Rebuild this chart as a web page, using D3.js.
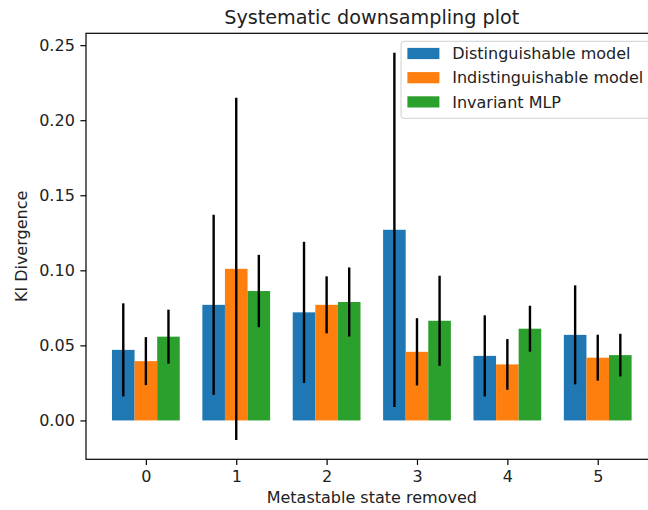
<!DOCTYPE html>
<html>
<head>
<meta charset="utf-8">
<script src="https://cdn.jsdelivr.net/npm/d3@7"></script>
<style>
  html, body { margin: 0; padding: 0; background: #fff; }
  svg { display: block; font-family: "DejaVu Sans", sans-serif; }
</style>
</head>
<body>
<div id="chart"></div>
<script>
const categories = [0, 1, 2, 3, 4, 5];
const seriesNames = ["Distinguishable model", "Indistinguishable model", "Invariant MLP"];
const seriesColors = ["#1f77b4", "#ff7f0e", "#2ca02c"];
const distinguishable = [0.047, 0.077, 0.072, 0.127, 0.043, 0.057];
const distinguishableErr = [0.031, 0.060, 0.047, 0.118, 0.027, 0.033];
const indistinguishable = [0.0395, 0.101, 0.077, 0.0457, 0.0373, 0.0418];
const indistinguishableErr = [0.016, 0.114, 0.019, 0.0224, 0.0169, 0.0153];
const invariant = [0.0558, 0.0862, 0.0789, 0.0664, 0.0611, 0.0435];
const invariantErr = [0.018, 0.0241, 0.023, 0.030, 0.0153, 0.0142];
const yTicks = [0.00, 0.05, 0.10, 0.15, 0.20, 0.25];

(function () {
const W = 648, H = 510;
const pLeft = 86, pRight = 657.6, pTop = 33.3, pBottom = 459.3;
const barW = 0.25;

const seriesVals = [distinguishable, indistinguishable, invariant];
const seriesErrs = [distinguishableErr, indistinguishableErr, invariantErr];

// matplotlib-like autoscale with 5% margins
const xMin = d3.min(categories) - barW * 1.5, xMax = d3.max(categories) + barW * 1.5;
const xm = (xMax - xMin) * 0.05;
let yLo = 0, yHi = 0;
seriesVals.forEach((vals, s) => vals.forEach((v, i) => {
  yLo = Math.min(yLo, v - seriesErrs[s][i]);
  yHi = Math.max(yHi, v + seriesErrs[s][i]);
}));
const ym = (yHi - yLo) * 0.05;

const x = d3.scaleLinear().domain([xMin - xm, xMax + xm]).range([pLeft, pRight]);
const y = d3.scaleLinear().domain([yLo - ym, yHi + ym]).range([pBottom, pTop]);

const svg = d3.select("#chart").append("svg").attr("width", W).attr("height", H);
svg.append("rect").attr("width", W).attr("height", H).attr("fill", "#fff");

// bars
const offsets = [-barW, 0, barW];
seriesVals.forEach((vals, s) => {
  svg.append("g").selectAll("rect").data(vals).join("rect")
    .attr("x", (d, i) => x(categories[i] + offsets[s] - barW / 2))
    .attr("width", (d, i) => x(categories[i] + offsets[s] + barW / 2) - x(categories[i] + offsets[s] - barW / 2))
    .attr("y", d => y(Math.max(d, 0)))
    .attr("height", d => Math.abs(y(d) - y(0)))
    .attr("fill", seriesColors[s]);
});
// error bars
seriesVals.forEach((vals, s) => {
  svg.append("g").selectAll("line").data(vals).join("line")
    .attr("x1", (d, i) => x(categories[i] + offsets[s]))
    .attr("x2", (d, i) => x(categories[i] + offsets[s]))
    .attr("y1", (d, i) => y(d - seriesErrs[s][i]))
    .attr("y2", (d, i) => y(d + seriesErrs[s][i]))
    .attr("stroke", "#000").attr("stroke-width", 2.4);
});

// spines
svg.append("rect").attr("x", pLeft).attr("y", pTop).attr("width", pRight - pLeft).attr("height", pBottom - pTop)
  .attr("stroke", "#000").attr("stroke-width", 1.2).attr("fill", "none");

// x axis
const xAxis = d3.axisBottom(x).tickValues(categories).tickFormat(d3.format("d")).tickSize(5.6).tickPadding(5.6);
const gx = svg.append("g").attr("transform", `translate(0,${pBottom})`).call(xAxis);
gx.select(".domain").remove();
gx.selectAll(".tick line").attr("stroke", "#000").attr("stroke-width", 1.2);
gx.selectAll(".tick text").attr("font-size", 16).attr("font-family", "DejaVu Sans").attr("fill", "#222");

// y axis
const yAxis = d3.axisLeft(y).tickValues(yTicks).tickFormat(d3.format(".2f")).tickSize(5.6).tickPadding(5.6);
const gy = svg.append("g").attr("transform", `translate(${pLeft},0)`).call(yAxis);
gy.select(".domain").remove();
gy.selectAll(".tick line").attr("stroke", "#000").attr("stroke-width", 1.2);
gy.selectAll(".tick text").attr("font-size", 16).attr("font-family", "DejaVu Sans").attr("fill", "#222");

// labels
svg.append("text").attr("x", (pLeft + pRight) / 2).attr("y", 23.5).attr("text-anchor", "middle")
  .attr("font-size", 19.2).attr("fill", "#222").text("Systematic downsampling plot");
svg.append("text").attr("x", (pLeft + pRight) / 2).attr("y", 503).attr("text-anchor", "middle")
  .attr("font-size", 16).attr("fill", "#222").text("Metastable state removed");
svg.append("text").attr("transform", `translate(27,${(pTop + pBottom) / 2}) rotate(-90)`).attr("text-anchor", "middle")
  .attr("font-size", 16).attr("fill", "#222").text("Kl Divergence");

// legend
const lgX = 401, lgY = 41.3, lgW = 248.6, lgH = 77;
const lg = svg.append("g");
lg.append("rect").attr("x", lgX).attr("y", lgY).attr("width", lgW).attr("height", lgH)
  .attr("rx", 3).attr("fill", "#fff").attr("fill-opacity", 0.8).attr("stroke", "#d0d0d0").attr("stroke-width", 1);
seriesNames.forEach((name, i) => {
  const cy = 53.5 + i * 24.2;
  lg.append("rect").attr("x", 407.4).attr("y", cy - 5.6).attr("width", 32).attr("height", 11.2).attr("fill", seriesColors[i]);
  lg.append("text").attr("x", 452.2).attr("y", cy + 5.6).attr("font-size", 16).attr("fill", "#222").text(name);
});
})();
</script>
</body>
</html>
